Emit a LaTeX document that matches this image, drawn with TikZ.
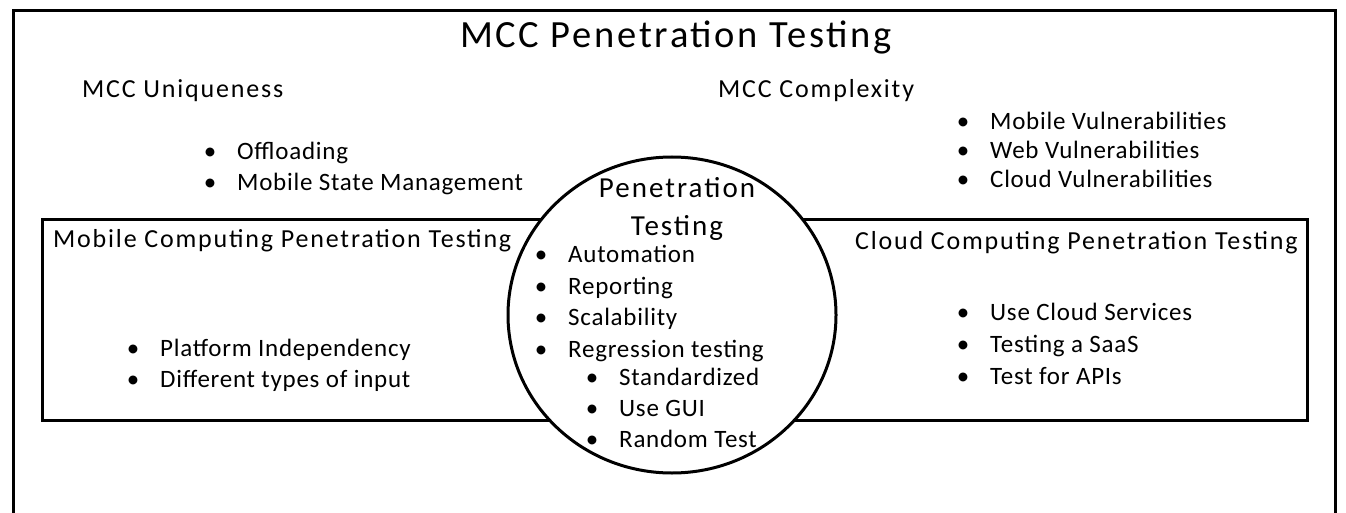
\documentclass[tikz,border=0pt]{standalone}
\usepackage{fontspec}
\setmainfont{Carlito}[LetterSpace=3]
\newfontfamily\headfont{Carlito}[LetterSpace=7]
\usetikzlibrary{shapes.geometric}
\tikzset{
	frame/.style={draw, line width=3pt},
	txt/.style={inner sep=0pt, anchor=base west, font=\fontsize{25}{31}\selectfont},
	head/.style={txt, font=\headfont\fontsize{26}{31}\selectfont},
	lst/.style={txt, align=left},
}
\newcommand{\itm}[1]{\llap{\makebox[54pt]{\textbullet}}#1}

\begin{document}
\begin{tikzpicture}[x=1pt,y=-1pt]
		\useasboundingbox (0,0) rectangle (1346,513);
		\clip (0,0) rectangle (1346,513);
		\draw[frame] (13,11) rectangle (1335,540);
		\node[frame, inner sep=0pt, minimum width=1265pt, minimum height=201pt] (band) at (674.5,319.5) {};
		\node[frame, ellipse, fill=white, inner sep=0pt, minimum width=328pt, minimum height=316pt] (core) at (672,315) {};

		\node[head, anchor=base, font=\headfont\fontsize{38.5}{44}\selectfont] (title) at (676,48) {MCC Penetration Testing};
		\node[head] (uniq) at (82,98) {MCC Uniqueness};
		\node[head] (cplx) at (718,98) {MCC Complexity};
		% last line sets the base of a list
		\node[lst] (uniqlist) at (237,191) {\itm{Offloading}\\\itm{Mobile State Management}};
		\node[lst, font=\fontsize{25}{29}\selectfont] (cplxlist) at (990,188) {\itm{Mobile Vulnerabilities}\\\itm{Web Vulnerabilities}\\\itm{Cloud Vulnerabilities}};

		\node[head] (mobile) at (53,247) {Mobile Computing Penetration Testing};
		\node[head, anchor=base east] (cloud) at (1298,249) {Cloud Computing Penetration Testing};
		\node[lst] (mobilelist) at (160,387) {\itm{Platform Independency}\\\itm{Different types of input}};
		\node[lst, font=\fontsize{25}{32}\selectfont] (cloudlist) at (990,384) {\itm{Use Cloud Services}\\\itm{Testing a SaaS}\\\itm{Test for APIs}};

		\node[head, anchor=base, align=center, font=\headfont\fontsize{29}{37}\selectfont] (pt) at (677,235) {Penetration\\Testing};
		\node[lst, font=\fontsize{25}{31.5}\selectfont] (ptlist) at (568,357) {\itm{Automation}\\\itm{Reporting}\\\itm{Scalability}\\\itm{Regression testing}};
		\node[lst] (reglist) at (619,447) {\itm{Standardized}\\\itm{Use GUI}\\\itm{Random Test}};
	\end{tikzpicture}
\end{document}
